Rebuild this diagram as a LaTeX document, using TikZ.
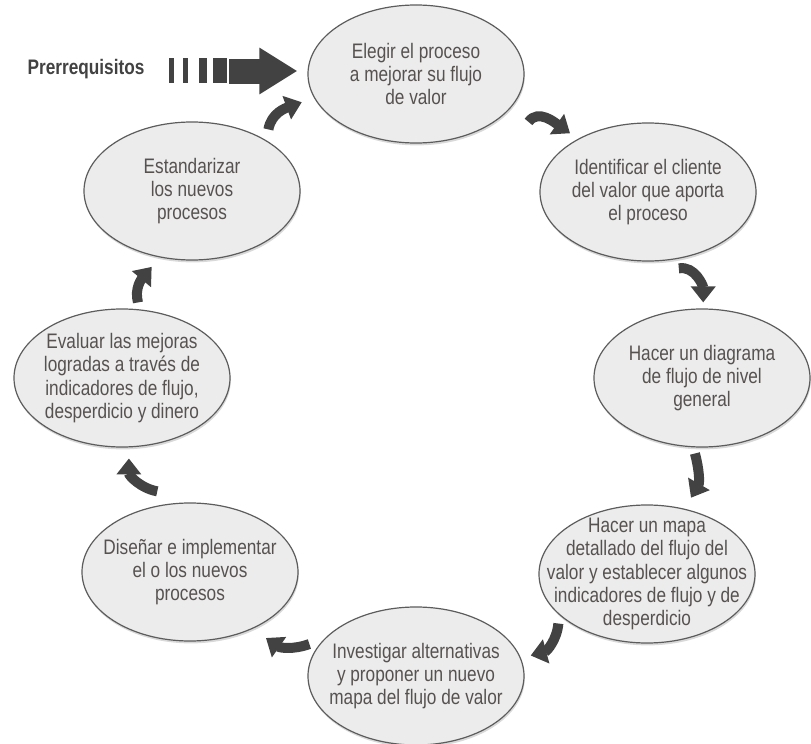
\documentclass[tikz,border=0pt]{standalone}
\usepackage{fontspec}
\setmainfont{Liberation Sans}[FakeStretch=0.82]
\usetikzlibrary{arrows.meta,shapes.geometric,shadows}
\definecolor{inkgray}{RGB}{66,66,66}
\definecolor{textgray}{RGB}{86,82,80}
\definecolor{bubblefill}{RGB}{236,236,236}
\definecolor{rimgray}{RGB}{92,92,92}

\begin{document}
\begin{tikzpicture}[x=0.5pt,y=0.5pt,
 bubble/.style={ellipse,draw=rimgray,line width=0.6pt,fill=bubblefill,
                minimum width=108pt,minimum height=69pt,inner sep=0pt,
                drop shadow={shadow xshift=0.4pt,shadow yshift=-1.2pt,opacity=0.3}},
 bubbletext/.style={align=center,text=textgray,inner sep=0pt,
                    font=\fontsize{10.5}{11.7}\selectfont},
 cyc/.style={draw=inkgray,line width=5pt,-{Triangle[length=8pt,width=12pt]}},
 prqarrow/.style={draw=inkgray,line width=12.5pt,-{Triangle[length=19pt,width=22pt]},shorten >=5pt}]
 \useasboundingbox (0,0) rectangle (811,-744);
 % the eight steps of the cycle
 \node[bubble,label={[bubbletext]center:{Elegir el proceso\\a mejorar su flujo\\de valor}}] (elegir) at (416,-74) {};
 \node[bubble,label={[bubbletext]center:{Identificar el cliente\\del valor que aporta\\el proceso}}] (cliente) at (648,-192) {};
 \node[bubble,label={[bubbletext]center:{Hacer un diagrama\\de flujo de nivel\\general}}] (diagrama) at (702,-378) {};
 \node[bubble,label={[bubbletext]center:{Hacer un mapa\\detallado del flujo del\\valor y establecer algunos\\indicadores de flujo y de\\desperdicio}}] (mapa) at (647,-574) {};
 \node[bubble,label={[bubbletext]center:{Investigar alternativas\\y proponer un nuevo\\mapa del flujo de valor}}] (investigar) at (416,-676) {};
 \node[bubble,label={[bubbletext]center:{Diseñar e implementar\\el o los nuevos\\procesos}}] (disenar) at (190,-572) {};
 \node[bubble,label={[bubbletext]center:{Evaluar las mejoras\\logradas a través de\\indicadores de flujo,\\desperdicio y dinero}}] (evaluar) at (122,-378) {};
 \node[bubble,label={[bubbletext]center:{Estandarizar\\los nuevos\\procesos}}] (estand) at (192,-191) {};
 % prerequisites
 \node[text=inkgray,font=\fontsize{10.5}{11.7}\selectfont\bfseries] (prereq) at (86,-69) {Prerrequisitos};
 \foreach \xa/\xb in {169/174,183/188,199/207,213/227}
   \fill[inkgray] (\xa,-58) rectangle (\xb,-83);
 \coordinate (shaft) at (229,-71);
 \draw[prqarrow] (shaft) -- (shaft -| elegir.west);
 % cycle arrows
 \draw[cyc] ([shift={(9,7)}]estand.39) to[out=80,in=200] ([shift={(-13,-3)}]elegir.194);
 \draw[cyc] ([shift={(22,-9.5)}]elegir.-23) to[out=55,in=145] ([shift={(-7.6,5.7)}]cliente.143);
 \draw[cyc] ([shift={(3.6,-9)}]cliente.-68.5) to[out=10,in=90] ([shift={(0,6)}]diagrama.89);
 \draw[cyc] ([shift={(-1,-6)}]diagrama.-95) to[out=-75,in=60] ([shift={(6.3,11)}]mapa.60.5);
 \draw[cyc] ([shift={(-6.5,-4)}]mapa.209) to[out=-95,in=15] ([shift={(10,2)}]investigar.10.4);
 \draw[cyc] ([shift={(-8.6,2)}]investigar.163) to[out=200,in=-35] ([shift={(11.5,-10)}]disenar.-41.3);
 \draw[cyc] ([shift={(-5.5,13.3)}]disenar.112.4) to[out=170,in=-90] ([shift={(0.8,-11)}]evaluar.-85.7);
 \draw[cyc] ([shift={(1.3,6.6)}]evaluar.78.7) to[out=105,in=-130] ([shift={(-5.3,-10)}]estand.-118);
\end{tikzpicture}
\end{document}
